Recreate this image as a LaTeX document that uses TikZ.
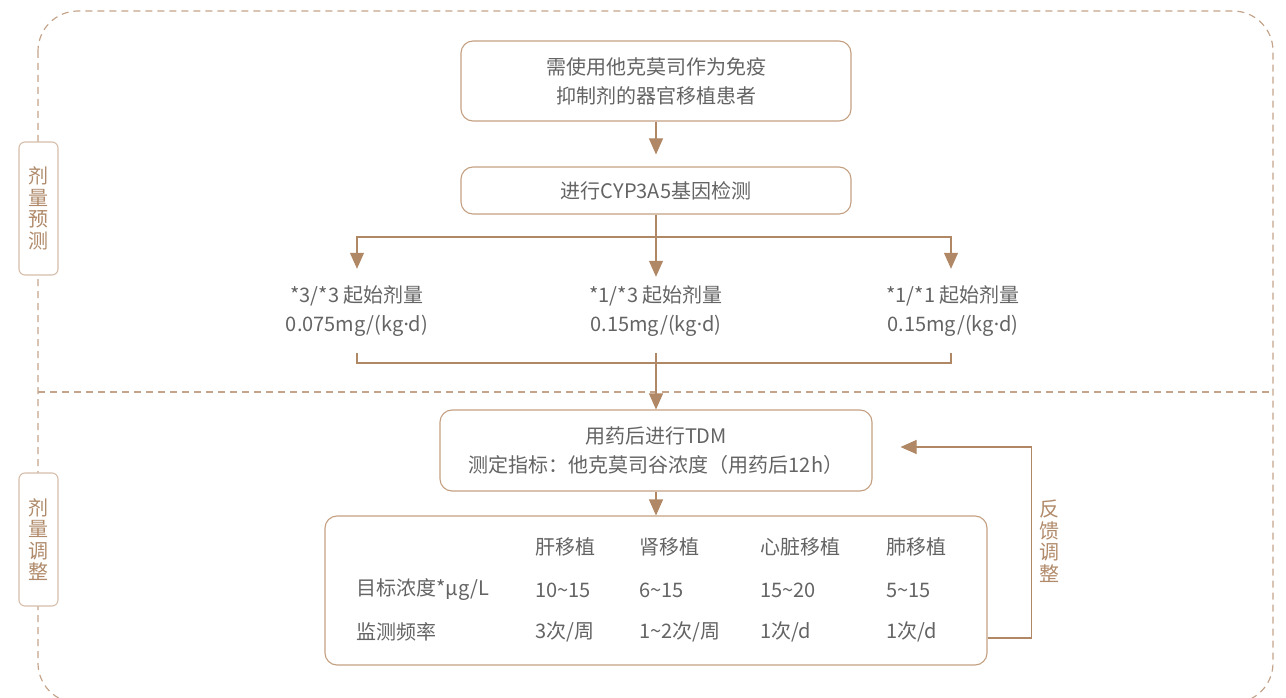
\documentclass[tikz,border=0pt]{standalone}
\usepackage{fontspec}
\newfontfamily\cjk{Noto Sans CJK SC}
\newfontfamily\lat{Noto Sans}
\usetikzlibrary{arrows.meta}
\definecolor{linec}{RGB}{176,136,102}
\definecolor{boxc}{RGB}{196,160,130}
\definecolor{lblc}{RGB}{214,190,170}
\definecolor{dashc}{RGB}{196,165,140}
\definecolor{txtc}{RGB}{100,100,100}
\definecolor{lbltxt}{RGB}{176,138,106}
\newcommand{\mdot}{{\lat ·}}
\begin{document}
\begin{tikzpicture}[x=1pt,y=-1pt,
  box/.style={draw=boxc,line width=1.1pt,rounded corners=12pt,fill=white,text=txtc,align=center,
    font=\cjk\fontsize{20}{29}\selectfont,inner sep=0pt},
  lblbox/.style={draw=lblc,line width=1.1pt,rounded corners=6pt,fill=white,text=lbltxt,align=center,
    font=\cjk\fontsize{20}{21.5}\selectfont,inner sep=0pt,minimum width=39pt,minimum height=133pt},
  plain/.style={text=txtc,align=center,font=\cjk\fontsize{20}{29}\selectfont,inner sep=0pt},
  cell/.style={text=txtc,anchor=west,font=\cjk\fontsize{20}{23}\selectfont,inner sep=0pt},
  conn/.style={draw=linec,line width=1.1pt},
  arr/.style={conn,-{Triangle[width=14pt,length=16pt]}},
  dsh/.style={draw=dashc,line width=1.2pt,dash pattern=on 7pt off 5pt}
]
\useasboundingbox (0,0) rectangle (1286,698);
\begin{scope}
\clip (0,0) rectangle (1286,698);
\draw[dsh,rounded corners=40pt] (38,11) rectangle (1273,703);
\draw[dsh] (38,392) -- (1273,392);
\end{scope}

\node[lblbox] (l1) at (38.5,208.5) {剂\\量\\预\\测};
\node[lblbox] (l2) at (38.5,539.5) {剂\\量\\调\\整};

\node[box,minimum width=390pt,minimum height=80pt] (b1) at (656,81) {需使用他克莫司作为免疫\\抑制剂的器官移植患者};
\node[box,minimum width=390pt,minimum height=47pt] (b2) at (656,190.5) {进行CYP3A5基因检测};

\node[plain,minimum height=84pt,minimum width=180pt] (t1) at (357,311) {*3/*3 起始剂量\\0.075mg/(kg\mdot d)};
\node[plain,minimum height=84pt,minimum width=180pt] (t2) at (656,311) {*1/*3 起始剂量\\0.15mg/(kg\mdot d)};
\node[plain,minimum height=84pt,minimum width=180pt] (t3) at (953,311) {*1/*1 起始剂量\\0.15mg/(kg\mdot d)};

\node[box,minimum width=432pt,minimum height=81pt] (tdm) at (656,450.5) {用药后进行TDM\\测定指标：他克莫司谷浓度（用药后12h）};
\node[box,minimum width=662pt,minimum height=149pt] (tbl) at (656,590.5) {};

\node[cell] (c01) at (535,547) {肝移植};
\node[cell] (c02) at (639,547) {肾移植};
\node[cell] (c03) at (760,547) {心脏移植};
\node[cell] (c04) at (886,547) {肺移植};
\node[cell] (c10) at (356,590) {目标浓度*μg/L};
\node[cell] (c11) at (535,590) {10\textasciitilde15};
\node[cell] (c12) at (639,590) {6\textasciitilde15};
\node[cell] (c13) at (760,590) {15\textasciitilde20};
\node[cell] (c14) at (886,590) {5\textasciitilde15};
\node[cell] (c20) at (356,632) {监测频率};
\node[cell] (c21) at (535,632) {3次/周};
\node[cell] (c22) at (639,632) {1\textasciitilde2次/周};
\node[cell] (c23) at (760,632) {1次/d};
\node[cell] (c24) at (886,632) {1次/d};

\node[text=lbltxt,align=center,font=\cjk\fontsize{20}{21.5}\selectfont,inner sep=0pt] (fbt) at (1049,541) {反\\馈\\调\\整};

% connectors
\draw[arr] (b1.south) -- ([yshift=12pt]b2.north);
\coordinate (j) at (656,237);
\draw[conn] (b2.south) -- (j);
\draw[arr] (j) -- ([yshift=-8pt]t2.north);
\draw[arr] (j) -| (t1.north);
\draw[arr] (j) -| ([xshift=-2pt]t3.north);
\coordinate (k) at (656,363);
\draw[conn] (t1.south) |- (k);
\draw[conn] ([xshift=-2pt]t3.south) |- (k);
\draw[arr] (t2.south) -- (tdm.north);
\draw[arr] (tdm.south) -- (tbl.north);
\draw[arr] ([yshift=-47.5pt]tbl.east) -- ++(44,0) |- ([xshift=28pt,yshift=3.5pt]tdm.east);
\end{tikzpicture}
\end{document}
